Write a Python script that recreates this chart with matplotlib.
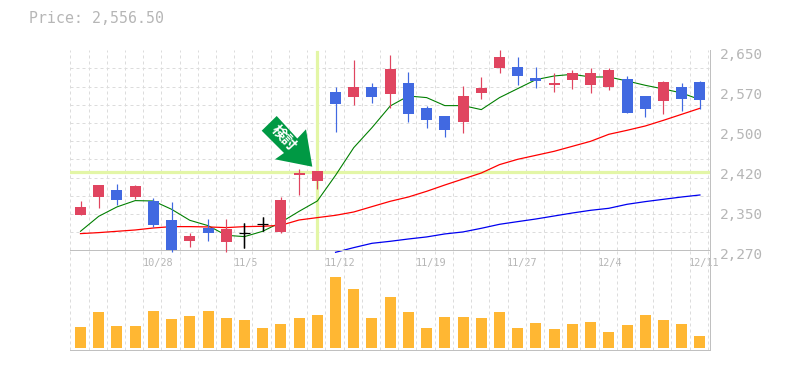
import numpy as np
import matplotlib
matplotlib.use("Agg")
import matplotlib.pyplot as plt
from matplotlib.patches import Polygon
from matplotlib.transforms import ScaledTranslation, IdentityTransform

title_text = "Price: 2,556.50"
mark_text = "検討"
price_labels = ["2,650", "2,570", "2,500", "2,420", "2,350", "2,270"]
date_labels = ["10/28", "11/5", "11/12", "11/19", "11/27", "12/4", "12/11"]
date_index = [4, 9, 14, 19, 24, 29, 34]

opens = [2336.5, 2370.7, 2384.0, 2370.7, 2363.1, 2327.0, 2287.1, 2311.8, 2285.2, 2303.6, 2320.7, 2304.2,
         2412.5, 2401.1, 2570.2, 2560.7, 2579.7, 2566.4, 2587.3, 2539.8, 2524.6, 2513.2, 2568.3, 2615.8,
         2617.7, 2596.8, 2583.5, 2593.0, 2583.5, 2579.7, 2594.9, 2562.6, 2553.1, 2579.7, 2589.2]
closes = [2351.7, 2393.5, 2365.0, 2391.6, 2317.5, 2270.0, 2296.6, 2302.3, 2309.9, 2303.6, 2320.7, 2365.0,
          2416.3, 2420.1, 2547.4, 2579.7, 2560.7, 2613.9, 2528.4, 2517.0, 2498.0, 2562.6, 2577.8, 2636.7,
          2600.6, 2591.1, 2587.3, 2606.3, 2606.3, 2612.0, 2530.3, 2537.9, 2589.2, 2556.9, 2555.0]
highs = [2363.1, 2393.5, 2395.4, 2393.5, 2368.8, 2361.2, 2302.3, 2328.9, 2328.9, 2321.3, 2332.7, 2370.7,
         2423.9, 2420.1, 2579.7, 2631.0, 2587.3, 2640.5, 2608.2, 2543.6, 2524.6, 2581.6, 2598.7, 2650.0,
         2636.7, 2617.7, 2606.3, 2612.0, 2615.8, 2615.8, 2600.6, 2562.6, 2591.1, 2587.3, 2591.1]
lows = [2336.5, 2349.8, 2355.5, 2366.9, 2313.7, 2267.5, 2275.7, 2287.1, 2267.5, 2273.8, 2306.1, 2302.3,
        2374.5, 2385.9, 2494.2, 2545.5, 2549.3, 2539.8, 2513.2, 2501.8, 2484.7, 2492.3, 2556.9, 2606.3,
        2583.5, 2577.8, 2570.2, 2575.9, 2568.3, 2574.0, 2530.3, 2522.7, 2528.4, 2534.1, 2537.9]
ma_short = [2306.1, 2334.6, 2352.4, 2364.4, 2363.7, 2347.9, 2327.0, 2316.9, 2298.5, 2296.0, 2306.1, 2323.2,
            2344.1, 2363.7, 2412.5, 2465.1, 2503.1, 2544.2, 2563.2, 2560.1, 2544.9, 2544.9, 2537.3, 2560.1,
            2577.2, 2594.3, 2601.2, 2604.4, 2599.3, 2599.3, 2591.7, 2583.5, 2576.5, 2568.9, 2556.3]
ma_mid = [2301.7, 2303.6, 2306.1, 2308.6, 2312.4, 2315.0, 2315.0, 2314.4, 2313.1, 2315.0, 2315.6, 2317.5,
          2327.6, 2332.1, 2336.5, 2342.8, 2353.0, 2363.1, 2371.3, 2382.1, 2394.1, 2405.5, 2416.9, 2432.8,
          2442.9, 2450.5, 2458.1, 2467.6, 2477.1, 2490.4, 2498.0, 2506.2, 2517.0, 2528.4, 2539.8]
ma_long = [2266.2, 2275.1, 2283.3, 2287.1, 2291.5, 2295.4, 2301.1, 2304.9, 2311.8, 2319.4, 2324.5,
           2329.5, 2335.2, 2340.9, 2346.0, 2349.8, 2357.4, 2362.5, 2366.9, 2371.3, 2375.1]
ma_long_start = 14
volumes = [21, 36, 22, 22, 37, 29, 32, 37, 30, 28, 20, 24, 30, 33, 71, 59, 30, 51, 36, 20, 31, 31, 30, 36,
           20, 25, 19, 24, 26, 16, 23, 33, 28, 24, 12]
focus_index = 13
focus_price = 2419.5

W, H = 785, 370
L, R, T, M, B = 70.3, 710.3, 50.3, 250.3, 350.3
GRAY = "#C0C0C0"
TEXT = "#B6B6B6"
GRID = "#DCDCDC"
RED = "#E04560"
BLUE = "#4169E1"
LIME = "#E3F6A6"
ORANGE = "#FFB733"
GREEN = "#009944"
PX = 72 / 100

fig = plt.figure(figsize=(W / 100, H / 100), dpi=100, facecolor="white")
ax = fig.add_axes([L / W, 1 - M / H, (R - L) / W, (M - T) / H])
vx = fig.add_axes([L / W, 1 - B / H, (R - L) / W, (B - M) / H])
vx.patch.set_visible(False)

x = np.arange(len(closes))
xlim = (-0.56, 34.57)
grid_x = np.arange(36) - 0.56
grid_y = np.linspace(2270, 2650, 12)
dash = (0, (3, 3))

for a in (ax, vx):
    a.set_xlim(*xlim)
    a.set_axisbelow(True)
    a.set_xticks(grid_x, minor=True)
    a.grid(True, which="minor", axis="x", color=GRID, lw=PX, ls=dash, clip_on=False)
    a.tick_params(which="both", length=0)
    for s in ("top", "left"):
        a.spines[s].set_visible(False)
    for s in ("right", "bottom"):
        a.spines[s].set_color(GRAY)
        a.spines[s].set_linewidth(PX)

# price panel
ax.set_ylim(2270, 2650)
ax.set_yticks(grid_y, minor=True)
ax.grid(True, which="minor", axis="y", color=GRID, lw=PX, ls=dash, clip_on=False)
ax.yaxis.tick_right()
ax.set_yticks(np.linspace(2650, 2270, 6), price_labels)
ax.set_xticks(date_index, date_labels)
ax.tick_params(axis="y", which="major", pad=7, labelsize=10.4, labelcolor=TEXT)
ax.tick_params(axis="x", which="major", pad=5.5, labelsize=7.4, labelcolor=TEXT)
for t in ax.get_yticklabels():
    t.set_family("DejaVu Sans Mono")
    t.set_transform(t.get_transform() + ScaledTranslation(0, -3 / 100, fig.dpi_scale_trans))
for t in ax.get_xticklabels():
    t.set_family("DejaVu Sans Mono")
    t.set_ha("left")
    t.set_transform(t.get_transform() + ScaledTranslation(-11 / 100, 0, fig.dpi_scale_trans))

ax.axhline(focus_price, color=LIME, lw=3.2 * PX, zorder=1.2)
ax.axvline(focus_index, ymin=0.01, ymax=0.99, color=LIME, lw=3.2 * PX, zorder=1.2)

ax.plot(x, ma_short, color="#007F00", lw=1.1 * PX, zorder=2, clip_on=False)
ax.plot(x, ma_mid, color="#FF0000", lw=1.25 * PX, zorder=2, clip_on=False)
ax.plot(x[ma_long_start:], ma_long, color="#0000F0", lw=1.25 * PX, zorder=2, clip_on=False)

o, c = np.array(opens), np.array(closes)
colors = np.where(c > o, RED, np.where(c < o, BLUE, "#000000"))
ax.vlines(x, lows, highs, colors=colors, lw=1.2 * PX, zorder=3, clip_on=False)
body = c != o
ax.bar(x[body], np.abs(c - o)[body], bottom=np.minimum(o, c)[body], width=0.604,
       color=colors[body], zorder=3.1, linewidth=0, clip_on=False)
ax.hlines(c[~body], x[~body] - 0.302, x[~body] + 0.302, colors="black", lw=1.2 * PX, zorder=3.1)
ax.vlines(x[~body], np.array(lows)[~body], np.array(highs)[~body], colors="black", lw=1.4 * PX, zorder=3.1)

# volume panel
vx.set_ylim(-2, 98)
vx.set_yticks([])
vx.set_xticks([])
vx.set_xticks(grid_x, minor=True)
vx.bar(x, volumes, width=0.604, color=ORANGE, linewidth=0, zorder=3)

# marker arrow, outlined in screen pixels (y measured downward from the image top)
arrow = [(276.7, 116), (261.7, 130.7), (284, 153), (275, 159.3), (312.3, 166.7), (306, 129.3), (297.3, 138.5)]
fig.add_artist(Polygon([(px, H - py) for px, py in arrow], closed=True, facecolor=GREEN,
                       edgecolor="none", transform=IdentityTransform(), zorder=5))
fig.text(284.5 / W, 1 - 138 / H, mark_text, color="white", fontsize=10.5, rotation=-47, ha="center", va="center",
         family=["Noto Sans CJK JP", "DejaVu Sans"], fontweight="bold", zorder=6, rotation_mode="anchor")

fig.text(29.3 / W, 1 - 18.3 / H, title_text, color=TEXT, fontsize=10.75, family="DejaVu Sans Mono",
         ha="left", va="center")

fig.savefig("out.png", dpi=100, facecolor="white")
